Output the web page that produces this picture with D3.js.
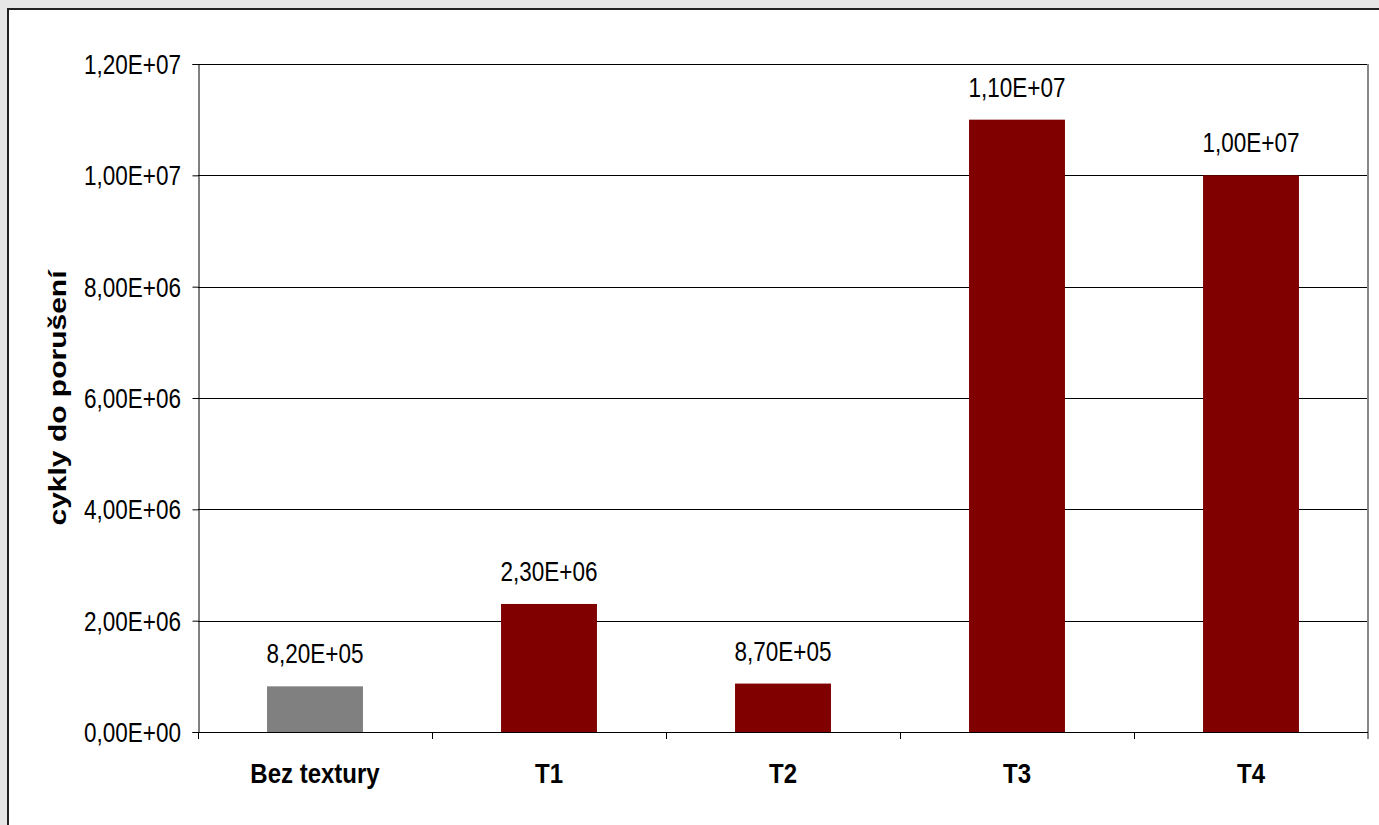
<!DOCTYPE html>
<html>
<head>
<meta charset="utf-8">
<script src="https://cdn.jsdelivr.net/npm/d3@7"></script>
<style>
  body { margin: 0; background: #e6e6e6; }
  text { font-family: "Liberation Sans", Arial, sans-serif; fill: #000; }
</style>
</head>
<body>
<div id="chart"></div>
<script>
var categories = ["Bez textury", "T1", "T2", "T3", "T4"];
var cycles = [8.2e5, 2.3e6, 8.7e5, 1.1e7, 1.0e7];
var barColors = ["#808080", "#800000", "#800000", "#800000", "#800000"];
var yTicks = [0, 2e6, 4e6, 6e6, 8e6, 1e7, 1.2e7];

var width = 1379,
    height = 825;
var margin = {top: 64, right: 11, bottom: 93, left: 198};
var vs = 1.23; // text looks stretched vertically in the original

// 1.10E+07 style with comma
function sci(v) {
  var s = v.toExponential(2).split("e");
  var e = parseInt(s[1], 10);
  var sign = e < 0 ? "-" : "+";
  e = Math.abs(e);
  return s[0].replace(".", ",") + "E" + sign + (e < 10 ? "0" + e : e);
}

var svg = d3.select("#chart").append("svg")
    .attr("width", width)
    .attr("height", height);

// white panel with dark frame
svg.append("rect")
    .attr("x", 8).attr("y", 9)
    .attr("width", 1400).attr("height", 900)
    .attr("fill", "#fff")
    .attr("stroke", "#222")
    .attr("stroke-width", 2);

var x = d3.scaleBand()
    .domain(categories)
    .range([margin.left, width - margin.right])
    .paddingInner(0.59)
    .paddingOuter(0.295);

var y = d3.scaleLinear()
    .domain([0, 1.2e7])
    .range([height - margin.bottom, margin.top]);

var step = x.step();
var x0 = margin.left, x1 = width - margin.right;

// gridlines
svg.append("g").selectAll("line")
    .data(yTicks.slice(1))
  .enter().append("line")
    .attr("x1", x0).attr("x2", x1)
    .attr("y1", function(d) { return Math.round(y(d)) + 0.5; })
    .attr("y2", function(d) { return Math.round(y(d)) + 0.5; })
    .attr("stroke", "#000")
    .attr("stroke-width", 1);

// right border of plot area
svg.append("line")
    .attr("x1", x1).attr("x2", x1)
    .attr("y1", y(1.2e7)).attr("y2", y(0) + 7)
    .attr("stroke", "#888")
    .attr("stroke-width", 2);

// bars
svg.append("g").selectAll("rect")
    .data(cycles)
  .enter().append("rect")
    .attr("x", function(d, i) { return x(categories[i]); })
    .attr("y", function(d) { return y(d); })
    .attr("width", x.bandwidth())
    .attr("height", function(d) { return y(0) - y(d); })
    .attr("fill", function(d, i) { return barColors[i]; });

// value labels
svg.append("g").selectAll("text")
    .data(cycles)
  .enter().append("text")
    .attr("text-anchor", "middle")
    .attr("font-size", 22.5)
    .attr("transform", function(d, i) {
      return "translate(" + (x(categories[i]) + x.bandwidth() / 2) + "," + (y(d) - 23) + ") scale(1," + vs + ")";
    })
    .text(function(d) { return sci(d); });

// y axis
var yAxis = d3.axisLeft(y)
    .tickValues(yTicks)
    .tickSize(6)
    .tickFormat(function() { return ""; });
var gy = svg.append("g")
    .attr("transform", "translate(" + (x0 + 0.5) + ",0)")
    .call(yAxis);
gy.select(".domain").attr("stroke", "#000");
gy.selectAll(".tick line").attr("stroke", "#000");

svg.append("g").selectAll("text")
    .data(yTicks)
  .enter().append("text")
    .attr("text-anchor", "end")
    .attr("font-size", 22.5)
    .attr("transform", function(d) {
      return "translate(181," + (y(d) + 10) + ") scale(1," + vs + ")";
    })
    .text(function(d) { return sci(d); });

// x axis line + boundary ticks
svg.append("line")
    .attr("x1", x0).attr("x2", x1)
    .attr("y1", y(0) + 0.5).attr("y2", y(0) + 0.5)
    .attr("stroke", "#000");
svg.append("g").selectAll("line")
    .data(d3.range(categories.length))
  .enter().append("line")
    .attr("x1", function(i) { return Math.round(x0 + step * i) + 0.5; })
    .attr("x2", function(i) { return Math.round(x0 + step * i) + 0.5; })
    .attr("y1", y(0))
    .attr("y2", y(0) + 7)
    .attr("stroke", "#000");

svg.append("g").selectAll("text")
    .data(categories)
  .enter().append("text")
    .attr("text-anchor", "middle")
    .attr("font-size", 24)
    .attr("font-weight", "bold")
    .attr("transform", function(d) {
      return "translate(" + (x(d) + x.bandwidth() / 2) + ",783) scale(1,1.16)";
    })
    .text(function(d) { return d; });

// y title
svg.append("text")
    .attr("text-anchor", "middle")
    .attr("font-size", 24)
    .attr("font-weight", "bold")
    .attr("transform", "translate(66," + (margin.top + (y(0) - margin.top) / 2) + ") rotate(-90) scale(1.25,1)")
    .text("cykly do porušení");
</script>
</body>
</html>
